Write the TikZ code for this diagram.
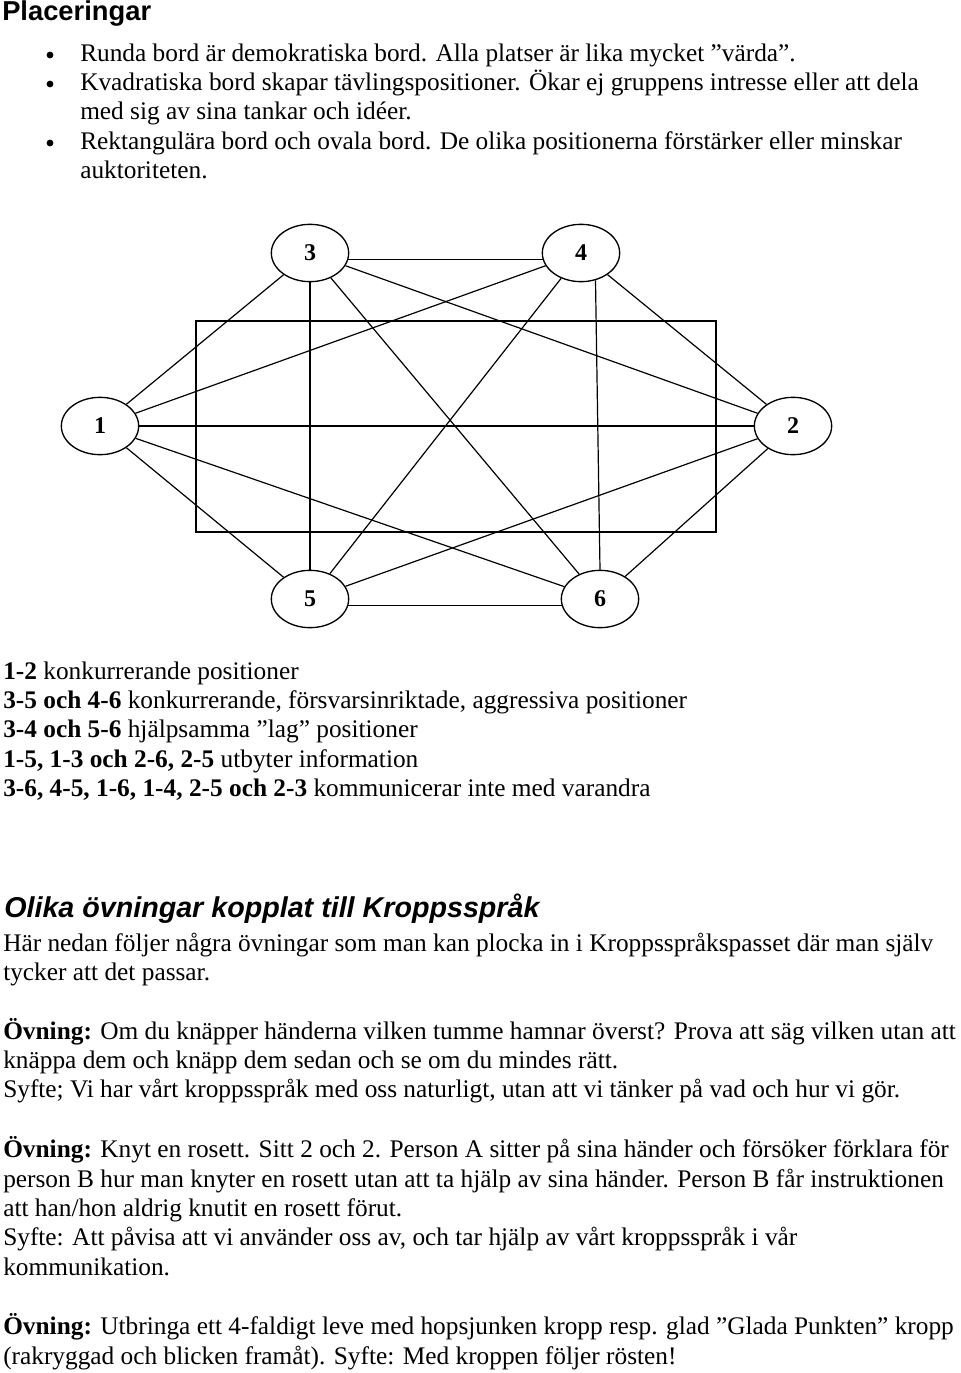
\documentclass[tikz,border=0pt]{standalone}
\usepackage{fontspec}
\setmainfont{Liberation Serif}
\newfontfamily\arial{Liberation Sans}
\usetikzlibrary{shapes.geometric}
\begin{document}
\begin{tikzpicture}[x=0.75pt,y=-0.75pt,
  seat/.style={ellipse,draw,line width=1pt,minimum width=58pt,minimum height=43pt,inner sep=0pt,font=\fontsize{18}{20}\selectfont\bfseries},
  ln/.style={anchor=base west,inner sep=0pt,font=\fontsize{19}{22}\selectfont},
  edge/.style={line width=0.9pt}]
\useasboundingbox (0,0) rectangle (960,1373);
\node[anchor=base west,inner sep=0pt,font=\arial\bfseries\fontsize{20.5}{24}\selectfont] (h1) at (2,21) {Placeringar};
\foreach \y/\t [count=\i] in {62/{Runda bord är demokratiska bord. Alla platser är lika mycket ”värda”.},
  91/{Kvadratiska bord skapar tävlingspositioner. Ökar ej gruppens intresse eller att dela},
  120/{med sig av sina tankar och idéer.},
  150/{Rektangulära bord och ovala bord. De olika positionerna förstärker eller minskar},
  179/{auktoriteten.}}
  \node[ln] (b\i) at (80,\y) {\t};
\foreach \y [count=\i] in {55,84,143}
  \fill (50,\y) circle (3.4);
% diagram
\draw[line width=1.2pt] (196,321) rectangle (716,532);
\node[seat] (n3) at (310,253) {3};
\node[seat] (n4) at (581,253) {4};
\node[seat] (n1) at (100,426) {1};
\node[seat] (n2) at (793,426) {2};
\node[seat] (n5) at (310,599) {5};
\node[seat] (n6) at (600,599) {6};
\draw[edge] (n3.-10) -- (n4.-170);
\draw[edge] (n5.-10) -- (n6.-170);
\draw[edge] (n1) -- (n3);
\draw[edge] (n1) -- (n5);
\draw[edge] (n2) -- (n4);
\draw[edge] (n2) -- (n6);
\draw[edge] (n3.south) -- (n5.north);
\draw[edge] (n4.-62) -- (n6.north);
\draw[edge] (n3) -- (n2);
\draw[edge] (n3) -- (n6);
\draw[edge] (n1) -- (n4);
\draw[edge] (n1) -- (n2);
\draw[edge] (n1) -- (n6);
\draw[edge] (n4) -- (n5);
\draw[edge] (n2) -- (n5);
% legend
\node[ln] (l1) at (3,679) {\textbf{1-2} konkurrerande positioner};
\node[ln] (l2) at (3,708) {\textbf{3-5 och 4-6} konkurrerande, försvarsinriktade, aggressiva positioner};
\node[ln] (l3) at (3,737) {\textbf{3-4 och 5-6} hjälpsamma ”lag” positioner};
\node[ln] (l4) at (3,767) {\textbf{1-5, 1-3 och 2-6, 2-5} utbyter information};
\node[ln] (l5) at (3,796) {\textbf{3-6, 4-5, 1-6, 1-4, 2-5 och 2-3} kommunicerar inte med varandra};
\node[anchor=base west,inner sep=0pt,font=\arial\bfseries\itshape\fontsize{21.5}{24}\selectfont] (h2) at (4,917) {Olika övningar kopplat till Kroppsspråk};
\foreach \y/\t [count=\i] in {951/{Här nedan följer några övningar som man kan plocka in i Kroppsspråkspasset där man själv},
  980/{tycker att det passar.},
  1039/{\textbf{Övning:} Om du knäpper händerna vilken tumme hamnar överst? Prova att säg vilken utan att},
  1068/{knäppa dem och knäpp dem sedan och se om du mindes rätt.},
  1097/{Syfte; Vi har vårt kroppsspråk med oss naturligt, utan att vi tänker på vad och hur vi gör.},
  1157/{\textbf{Övning:} Knyt en rosett. Sitt 2 och 2. Person A sitter på sina händer och försöker förklara för},
  1187/{person B hur man knyter en rosett utan att ta hjälp av sina händer. Person B får instruktionen},
  1216/{att han/hon aldrig knutit en rosett förut.},
  1245/{Syfte: Att påvisa att vi använder oss av, och tar hjälp av vårt kroppsspråk i vår},
  1275/{kommunikation.},
  1334/{\textbf{Övning:} Utbringa ett 4-faldigt leve med hopsjunken kropp resp. glad ”Glada Punkten” kropp},
  1364/{(rakryggad och blicken framåt). Syfte: Med kroppen följer rösten!}}
  \node[ln] (p\i) at (3,\y) {\t};
\end{tikzpicture}
\end{document}
